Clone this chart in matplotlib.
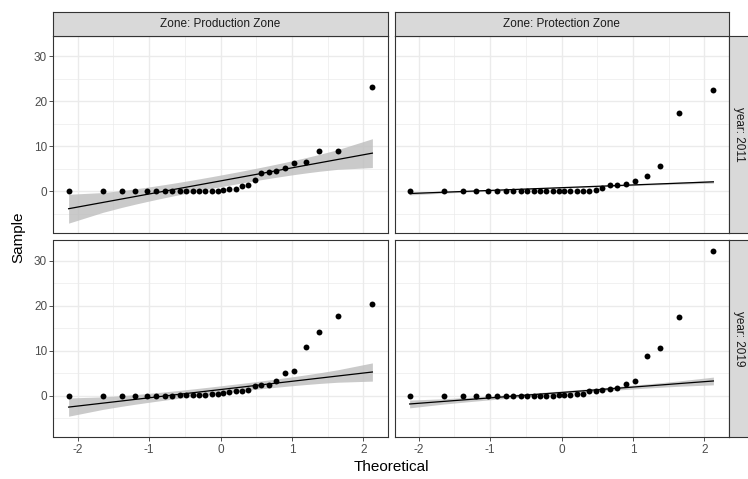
import numpy as np
import matplotlib
matplotlib.use("Agg")
import matplotlib.pyplot as plt
from statistics import NormalDist

plt.rcParams['font.family'] = ['Liberation Sans', 'DejaVu Sans']

# Facet labels
zones = ["Production Zone", "Protection Zone"]
years = ["2011", "2019"]

# Sorted sample values for each panel (30 observations each)
prod_2011 = [0.0, 0.0, 0.0, 0.0, 0.0, 0.0, 0.0, 0.0, 0.0, 0.0,
             0.0, 0.0, 0.0, 0.0, 0.0, 0.3, 0.4, 0.5, 1.1, 1.4,
             2.6, 4.0, 4.3, 4.4, 5.2, 6.3, 6.6, 9.0, 9.0, 23.2]
prot_2011 = [0.0, 0.0, 0.0, 0.0, 0.0, 0.0, 0.0, 0.0, 0.0, 0.0,
             0.0, 0.0, 0.0, 0.0, 0.0, 0.0, 0.0, 0.0, 0.0, 0.1,
             0.2, 0.8, 1.4, 1.5, 1.7, 2.3, 3.3, 5.6, 17.3, 22.4]
prod_2019 = [0.0, 0.0, 0.0, 0.0, 0.0, 0.0, 0.0, 0.0, 0.1, 0.1,
             0.2, 0.2, 0.3, 0.4, 0.5, 0.6, 0.8, 1.0, 1.1, 1.4,
             2.2, 2.4, 2.5, 3.3, 5.1, 5.6, 10.9, 14.2, 17.8, 20.5]
prot_2019 = [0.0, 0.0, 0.0, 0.0, 0.0, 0.0, 0.0, 0.0, 0.0, 0.0,
             0.0, 0.0, 0.0, 0.0, 0.1, 0.2, 0.3, 0.4, 0.5, 1.0,
             1.15, 1.35, 1.6, 1.8, 2.7, 3.2, 8.85, 10.6, 17.5, 32.1]

# Reference line and confidence band per panel
# (row-major: 2011 prod, 2011 prot, 2019 prod, 2019 prot)
line_intercept = [2.3, 0.8, 1.4, 0.75]
line_slope = [2.9, 0.61, 1.83, 1.2]
band_scale = [1.0, 0.45, 1.0, 0.65]

x_ticks = [-2, -1, 0, 1, 2]
y_ticks = [0, 10, 20, 30]

samples = [[prod_2011, prot_2011], [prod_2019, prot_2019]]

W, H = 748, 479
fig = plt.figure(figsize=(W / 100, H / 100), dpi=100)
fig.patch.set_facecolor('white')


def rect(x0, y0, x1, y1):
    """Pixel box (top-left origin) -> figure fraction [l, b, w, h]."""
    return [x0 / W, 1 - y1 / H, (x1 - x0) / W, (y1 - y0) / H]


col_x = [(53.5, 387.5), (394.5, 728.5)]
row_y = [(35.5, 232.7), (240.0, 437.3)]
xlim = (-2.34, 2.34)
ylim = (-9.2, 34.6)

nd = NormalDist()
z975 = nd.inv_cdf(0.975)

for r in range(2):
    for c in range(2):
        ax = fig.add_axes(rect(col_x[c][0], row_y[r][0], col_x[c][1], row_y[r][1]))
        y = np.sort(np.asarray(samples[r][c], dtype=float))
        n = len(y)
        p = (np.arange(1, n + 1) - 0.5) / n
        theo = np.array([nd.inv_cdf(v) for v in p])
        k = r * 2 + c
        b0, b1 = line_intercept[k], line_slope[k]
        fit = b0 + b1 * theo
        dens = np.array([nd.pdf(v) for v in theo])
        half = band_scale[k] * z975 * b1 / dens * np.sqrt(p * (1 - p) / n)

        # grid
        for v in [-1.5, -0.5, 0.5, 1.5]:
            ax.axvline(v, color='#EBEBEB', lw=0.5, zorder=0)
        for v in [-5, 5, 15, 25]:
            ax.axhline(v, color='#EBEBEB', lw=0.5, zorder=0)
        for v in x_ticks:
            ax.axvline(v, color='#EBEBEB', lw=1.0, zorder=0)
        for v in y_ticks:
            ax.axhline(v, color='#EBEBEB', lw=1.0, zorder=0)

        ax.fill_between(theo, fit - half, fit + half, color='#BDBDBD',
                        alpha=0.8, lw=0, zorder=1)
        ax.plot(theo, fit, color='black', lw=0.9, zorder=2)
        ax.scatter(theo, y, s=18, color='black', lw=0, zorder=3)

        ax.set_xlim(*xlim)
        ax.set_ylim(*ylim)
        ax.set_xticks(x_ticks)
        ax.set_yticks(y_ticks)
        for s in ax.spines.values():
            s.set_color('#333333')
            s.set_linewidth(0.8)
        ax.tick_params(axis='both', length=2.6, width=0.6, color='#333333',
                       labelsize=8.5, labelcolor='#4D4D4D', pad=2)
        if r == 0:
            ax.tick_params(axis='x', bottom=False, labelbottom=False)
        else:
            ax.set_xticklabels([str(v) for v in x_ticks])
        if c == 1:
            ax.tick_params(axis='y', left=False, labelleft=False)
        else:
            ax.set_yticklabels([str(v) for v in y_ticks])

# column strips
for c in range(2):
    sx = fig.add_axes(rect(col_x[c][0], 12.0, col_x[c][1], 35.5))
    sx.set_facecolor('#D9D9D9')
    sx.set_xticks([]); sx.set_yticks([])
    for s in sx.spines.values():
        s.set_color('#333333'); s.set_linewidth(0.8)
    sx.text(0.5, 0.5, f"Zone: {zones[c]}", ha='center', va='center',
            fontsize=8.5, color='#1A1A1A', transform=sx.transAxes)

# row strips
for r in range(2):
    sy = fig.add_axes(rect(728.5, row_y[r][0], 751.0, row_y[r][1]))
    sy.set_facecolor('#D9D9D9')
    sy.set_xticks([]); sy.set_yticks([])
    for s in sy.spines.values():
        s.set_color('#333333'); s.set_linewidth(0.8)
    sy.text(0.45, 0.5, f"year: {years[r]}", ha='center', va='center',
            rotation=-90, fontsize=8.5, color='#1A1A1A', transform=sy.transAxes)

fig.text((53.5 + 728.5) / 2 / W, 1 - 467 / H, "Theoretical", ha='center',
         va='center', fontsize=11, color='black')
fig.text(18 / W, 1 - 237 / H, "Sample", ha='center', va='center',
         rotation=90, fontsize=11, color='black')

fig.savefig("out.png", dpi=100)
